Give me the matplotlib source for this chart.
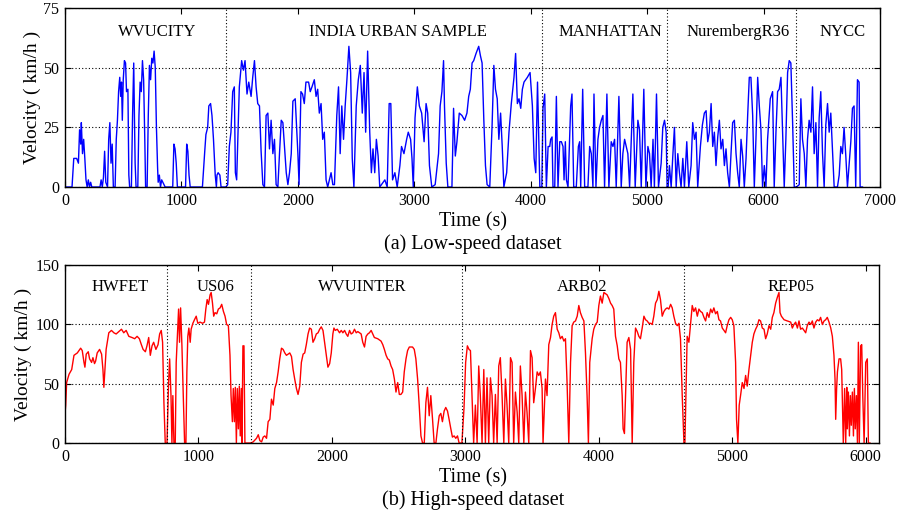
import matplotlib
matplotlib.use("Agg")
import matplotlib.pyplot as plt

plt.rcParams['font.family'] = ['Liberation Serif', 'DejaVu Serif']

# --- low-speed cycles: (time s, speed km/h) ---
wvucity = [(0, 0), (60, 0), (75, 12), (100, 12), (115, 10), (125, 24), (135, 18), (140, 27), (150, 14),
           (160, 20), (170, 12), (180, 3), (190, 0), (200, 3), (210, 0), (220, 2), (230, 0), (300, 0),
           (310, 3), (320, 0), (330, 4), (340, 15), (350, 2), (365, 0), (375, 20), (385, 27), (395, 10),
           (405, 18), (415, 0), (430, 0), (440, 20), (450, 28), (460, 40), (470, 46), (478, 38), (485, 44),
           (492, 28), (500, 45), (510, 53), (520, 52), (528, 40), (540, 41), (548, 5), (555, 0), (570, 0),
           (580, 30), (590, 52), (596, 30), (602, 10), (610, 0), (625, 0), (635, 30), (645, 44), (655, 40),
           (665, 53), (675, 45), (685, 20), (692, 0), (705, 0), (715, 30), (725, 51), (735, 45), (745, 54),
           (755, 52), (765, 57), (775, 50), (785, 25), (795, 8), (800, 2), (810, 5), (820, 0), (830, 3),
           (840, 2), (860, 0), (925, 0), (935, 18), (945, 16), (955, 10), (965, 0), (1035, 0), (1045, 18),
           (1055, 15), (1065, 5), (1075, 0), (1180, 0), (1200, 15), (1210, 22), (1225, 25), (1235, 34),
           (1250, 35), (1262, 30), (1275, 20), (1290, 5), (1300, 0), (1305, 5), (1315, 6), (1330, 5),
           (1340, 0), (1382, 0)]

india = [(1382, 0), (1397, 1), (1411, 17), (1425, 23), (1440, 40), (1454, 42), (1463, 6), (1474, 3),
         (1497, 42), (1517, 53), (1532, 49), (1546, 53), (1563, 39), (1578, 44), (1598, 38), (1612, 46),
         (1627, 53), (1641, 42), (1655, 35), (1670, 34), (1684, 15), (1699, 1), (1713, 0), (1727, 30),
         (1742, 31), (1756, 16), (1770, 28), (1785, 14), (1799, 20), (1813, 1), (1828, 0), (1842, 14),
         (1857, 28), (1871, 27), (1885, 17), (1900, 6), (1914, 1), (1928, 6), (1943, 14), (1957, 36),
         (1977, 37), (2000, 14), (2010, 1), (2026, 40), (2040, 39), (2055, 35), (2069, 44), (2092, 44),
         (2106, 40), (2121, 42), (2141, 45), (2156, 38), (2170, 41), (2184, 31), (2199, 35), (2213, 20),
         (2227, 23), (2242, 3), (2256, 0), (2285, 6), (2300, 1), (2314, 1), (2334, 30), (2349, 42),
         (2363, 14), (2377, 34), (2392, 20), (2406, 34), (2421, 45), (2438, 59), (2453, 48), (2467, 12),
         (2481, 0), (2501, 34), (2519, 45), (2536, 51), (2553, 31), (2568, 48), (2582, 23), (2599, 57),
         (2617, 23), (2631, 6), (2645, 16), (2660, 6), (2674, 20), (2689, 13), (2703, 0), (2747, 3),
         (2767, 0), (2784, 35), (2798, 35), (2813, 3), (2833, 6), (2853, 0), (2876, 9), (2890, 17),
         (2911, 14), (2934, 20), (2948, 23), (2968, 20), (2980, 12), (2991, 0), (3006, 29), (3026, 42),
         (3043, 34), (3063, 31), (3084, 19), (3101, 35), (3115, 31), (3130, 9), (3150, 0), (3179, 1),
         (3208, 14), (3222, 34), (3237, 40), (3251, 53), (3259, 34), (3274, 10), (3288, 0), (3323, 0),
         (3337, 33), (3352, 13), (3366, 19), (3386, 31), (3409, 30), (3432, 28), (3452, 31), (3467, 38),
         (3481, 41), (3496, 52), (3510, 53), (3530, 56), (3553, 59), (3568, 55), (3582, 52), (3597, 28),
         (3611, 9), (3625, 1), (3648, 0), (3668, 26), (3683, 51), (3697, 41), (3712, 37), (3726, 20),
         (3741, 31), (3755, 17), (3769, 0), (3793, 6), (3813, 23), (3833, 35), (3856, 46), (3870, 56),
         (3885, 35), (3899, 37), (3914, 33), (3928, 41), (3942, 44), (3971, 46), (3994, 48), (4014, 34),
         (4029, 12), (4043, 6), (4058, 44), (4078, 0), (4095, 0)]

manhattan = [(4095, 0), (4105, 33), (4120, 39), (4134, 0), (4149, 17), (4163, 17), (4171, 20), (4183, 21),
             (4191, 0), (4206, 0), (4220, 38), (4234, 0), (4249, 19), (4263, 19), (4277, 17), (4286, 3),
             (4297, 19), (4306, 3), (4320, 0), (4343, 34), (4354, 39), (4369, 0), (4391, 0), (4409, 17),
             (4420, 19), (4429, 0), (4446, 41), (4463, 0), (4491, 0), (4506, 17), (4520, 14), (4534, 0),
             (4543, 39), (4560, 0), (4577, 20), (4591, 25), (4606, 28), (4620, 30), (4634, 0), (4654, 39),
             (4671, 0), (4691, 19), (4706, 17), (4720, 20), (4734, 0), (4757, 38), (4777, 0), (4791, 14),
             (4806, 20), (4820, 17), (4834, 14), (4849, 0), (4877, 39), (4897, 0), (4920, 28), (4934, 24),
             (4949, 0), (4971, 41), (4989, 0), (5006, 17), (5020, 14), (5034, 0), (5050, 20), (5062, 0),
             (5080, 39), (5097, 0), (5120, 10), (5134, 25), (5149, 28), (5163, 23), (5171, 0)]

nuremberg = [(5171, 0), (5180, 0), (5191, 9), (5206, 0), (5220, 13), (5234, 25), (5249, 0), (5263, 14),
             (5277, 6), (5291, 0), (5306, 12), (5320, 0), (5340, 19), (5357, 0), (5377, 9), (5391, 27),
             (5406, 20), (5420, 23), (5434, 0), (5457, 17), (5474, 26), (5491, 31), (5506, 32), (5520, 19),
             (5534, 23), (5549, 35), (5563, 17), (5577, 23), (5591, 9), (5606, 21), (5620, 28), (5634, 16),
             (5649, 20), (5663, 9), (5677, 16), (5691, 6), (5706, 0), (5720, 14), (5734, 27), (5749, 28),
             (5763, 14), (5777, 6), (5791, 0), (5806, 20), (5820, 13), (5834, 0), (5849, 12), (5863, 30),
             (5877, 46), (5891, 46), (5906, 30), (5920, 0), (5934, 20), (5949, 46), (5963, 34), (5977, 24),
             (5991, 0), (6006, 9), (6020, 0), (6034, 20), (6057, 37), (6077, 40), (6091, 0), (6106, 23),
             (6120, 40), (6134, 41), (6149, 46), (6163, 23), (6177, 0), (6191, 20), (6206, 48), (6220, 53),
             (6234, 52), (6249, 27), (6263, 0), (6282, 0)]

nycc = [(6282, 0), (6306, 1), (6320, 37), (6334, 20), (6349, 14), (6363, 0), (6377, 20), (6391, 28),
        (6406, 23), (6420, 42), (6434, 14), (6449, 27), (6463, 0), (6477, 29), (6491, 40), (6506, 14),
        (6520, 0), (6534, 26), (6549, 35), (6563, 23), (6577, 31), (6591, 16), (6606, 0), (6634, 0),
        (6649, 5), (6663, 17), (6677, 14), (6691, 25), (6706, 13), (6720, 0), (6749, 19), (6763, 33),
        (6777, 34), (6791, 0), (6806, 45), (6820, 44), (6829, 0), (6849, 0)]

# --- high-speed cycles ---
hwfet = [(0, 25), (5, 32), (12, 51), (30, 58), (50, 62), (67, 74), (92, 76), (117, 80), (129, 78), (142, 68),
         (149, 64), (159, 75), (174, 77), (184, 71), (199, 68), (209, 72), (221, 67), (229, 69), (241, 76),
         (259, 79), (274, 75), (284, 62), (291, 47), (299, 62), (308, 79), (328, 93), (348, 95), (366, 93),
         (383, 92), (403, 94), (423, 96), (440, 93), (458, 95), (478, 90), (502, 89), (522, 88), (540, 90),
         (557, 88), (572, 83), (585, 79), (602, 77), (614, 82), (627, 89), (639, 74), (652, 82), (664, 85),
         (681, 79), (697, 83), (709, 92), (721, 95), (731, 85), (741, 34), (751, 0), (764, 0)]

us06 = [(764, 0), (776, 51), (784, 71), (794, 40), (801, 0), (808, 40), (816, 0), (826, 0), (833, 68),
        (841, 88), (851, 113), (858, 85), (866, 114), (876, 82), (886, 40), (896, 0), (906, 0), (913, 60),
        (920, 90), (928, 97), (938, 85), (945, 96), (958, 101), (970, 104), (983, 107), (995, 101),
        (1012, 102), (1030, 101), (1045, 102), (1055, 113), (1065, 121), (1075, 117), (1087, 125),
        (1095, 127), (1105, 118), (1114, 107), (1124, 110), (1137, 109), (1149, 113), (1162, 114),
        (1174, 117), (1187, 111), (1199, 107), (1211, 100), (1224, 99), (1236, 74), (1244, 40), (1254, 18),
        (1261, 46), (1269, 18), (1276, 47), (1284, 0), (1291, 46), (1299, 12), (1306, 48), (1313, 6),
        (1321, 46), (1326, 0), (1333, 82), (1341, 82), (1348, 0), (1393, 0)]

wvuinter = [(1393, 0), (1410, 1), (1435, 4), (1448, 7), (1460, 2), (1473, 1), (1485, 5), (1497, 6),
            (1510, 4), (1522, 18), (1535, 20), (1547, 37), (1560, 32), (1572, 46), (1585, 51), (1597, 60),
            (1609, 71), (1622, 80), (1634, 79), (1647, 76), (1659, 74), (1672, 75), (1684, 76), (1697, 73),
            (1709, 62), (1721, 54), (1734, 46), (1746, 41), (1759, 48), (1771, 68), (1784, 75), (1796, 76),
            (1808, 83), (1821, 92), (1833, 97), (1846, 96), (1858, 85), (1871, 88), (1883, 92), (1896, 93),
            (1908, 96), (1920, 98), (1933, 95), (1945, 85), (1958, 74), (1970, 64), (1983, 67), (1995, 76),
            (2007, 92), (2015, 97), (2025, 95), (2040, 96), (2057, 93), (2070, 95), (2082, 93), (2095, 95),
            (2107, 92), (2119, 90), (2132, 95), (2144, 92), (2157, 93), (2169, 96), (2182, 93), (2194, 94),
            (2207, 93), (2219, 92), (2231, 85), (2244, 81), (2256, 90), (2269, 92), (2281, 93), (2294, 95),
            (2306, 92), (2318, 89), (2343, 88), (2368, 86), (2381, 83), (2393, 79), (2406, 74), (2418, 71),
            (2430, 70), (2443, 65), (2455, 62), (2468, 54), (2480, 43), (2493, 51), (2505, 41), (2517, 41),
            (2530, 43), (2542, 60), (2555, 71), (2567, 78), (2580, 81), (2604, 81), (2617, 79), (2629, 71),
            (2642, 54), (2654, 32), (2667, 6), (2679, 0), (2692, 0), (2704, 34), (2716, 47), (2729, 23),
            (2741, 40), (2754, 20), (2766, 0), (2779, 0), (2791, 12), (2804, 23), (2816, 25), (2828, 18),
            (2841, 27), (2853, 30), (2866, 27), (2878, 20), (2891, 12), (2903, 5), (2916, 6), (2928, 4),
            (2941, 6), (2953, 0), (2974, 0)]

arb02 = [(2974, 0), (2990, 30), (3002, 68), (3015, 82), (3027, 79), (3038, 78), (3050, 40), (3062, 0),
         (3075, 32), (3088, 0), (3100, 65), (3112, 40), (3125, 0), (3138, 62), (3150, 0), (3162, 55),
         (3175, 0), (3188, 55), (3200, 40), (3212, 0), (3225, 41), (3238, 0), (3250, 65), (3262, 72),
         (3275, 40), (3288, 0), (3300, 54), (3312, 32), (3325, 0), (3338, 72), (3350, 68), (3362, 0),
         (3375, 43), (3388, 26), (3400, 0), (3412, 65), (3425, 40), (3438, 0), (3450, 43), (3462, 26),
         (3475, 0), (3488, 78), (3500, 72), (3512, 34), (3525, 46), (3538, 60), (3550, 57), (3562, 60),
         (3575, 46), (3582, 0), (3600, 54), (3612, 40), (3625, 83), (3638, 89), (3650, 100), (3662, 107),
         (3675, 110), (3688, 96), (3700, 93), (3712, 88), (3725, 90), (3738, 86), (3750, 88), (3762, 51),
         (3775, 0), (3788, 68), (3800, 99), (3812, 102), (3825, 103), (3838, 107), (3850, 116), (3862, 110),
         (3875, 106), (3888, 103), (3900, 76), (3912, 40), (3922, 0), (3932, 68), (3942, 79), (3950, 88),
         (3962, 96), (3975, 100), (3988, 102), (4000, 116), (4012, 124), (4025, 118), (4038, 127),
         (4062, 125), (4075, 122), (4088, 118), (4100, 116), (4112, 113), (4125, 90), (4138, 82),
         (4150, 71), (4162, 68), (4175, 40), (4182, 12), (4192, 8), (4200, 40), (4212, 85), (4225, 89),
         (4238, 79), (4250, 0), (4262, 68), (4275, 97), (4288, 94), (4300, 90), (4312, 88), (4325, 97),
         (4338, 107), (4350, 104), (4362, 103), (4375, 101), (4388, 101), (4400, 100), (4412, 107),
         (4425, 118), (4438, 121), (4450, 128), (4462, 121), (4475, 107), (4488, 111), (4500, 113),
         (4512, 114), (4525, 113), (4538, 117), (4550, 114), (4562, 107), (4575, 101), (4588, 99),
         (4600, 101), (4612, 88), (4625, 40), (4638, 0)]

rep05 = [(4638, 0), (4645, 0), (4650, 26), (4662, 90), (4675, 85), (4688, 101), (4700, 116), (4712, 111),
         (4725, 114), (4738, 107), (4750, 113), (4762, 111), (4775, 110), (4788, 106), (4800, 103),
         (4812, 110), (4825, 106), (4838, 113), (4850, 110), (4862, 114), (4875, 109), (4888, 111),
         (4900, 104), (4912, 103), (4925, 97), (4938, 95), (4950, 93), (4962, 99), (4975, 104), (4988, 106),
         (5000, 104), (5012, 99), (5025, 68), (5032, 20), (5042, 0), (5052, 32), (5062, 40), (5075, 51),
         (5088, 46), (5100, 57), (5112, 48), (5125, 62), (5138, 74), (5150, 85), (5162, 92), (5175, 96),
         (5188, 99), (5200, 104), (5212, 103), (5225, 97), (5238, 96), (5250, 88), (5262, 92), (5275, 99),
         (5288, 96), (5300, 106), (5312, 110), (5325, 118), (5338, 123), (5350, 127), (5358, 110),
         (5368, 107), (5388, 104), (5412, 103), (5438, 102), (5450, 97), (5462, 100), (5475, 102),
         (5488, 97), (5500, 103), (5512, 96), (5525, 97), (5538, 95), (5550, 93), (5562, 99), (5575, 102),
         (5588, 100), (5600, 103), (5612, 97), (5625, 102), (5638, 104), (5650, 103), (5662, 106),
         (5675, 100), (5688, 103), (5700, 104), (5712, 106), (5725, 102), (5738, 97), (5750, 90),
         (5762, 74), (5770, 54), (5775, 20), (5782, 46), (5788, 60), (5800, 71), (5812, 71), (5820, 62),
         (5832, 0), (5842, 46), (5850, 0), (5858, 47), (5862, 12), (5870, 43), (5878, 6), (5885, 40),
         (5892, 15), (5900, 43), (5908, 6), (5915, 46), (5922, 12), (5930, 40), (5938, 0), (5945, 85),
         (5952, 0), (5962, 82), (5970, 83), (5978, 40), (5988, 0), (6000, 68), (6012, 71), (6020, 0),
         (6032, 0)]

low_names = ['WVUCITY', 'INDIA URBAN SAMPLE', 'MANHATTAN', 'NurembergR36', 'NYCC']
low_cycles = [wvucity, india, manhattan, nuremberg, nycc]
low_bounds = [1382, 4095, 5171, 6282]

high_names = ['HWFET', 'US06', 'WVUINTER', 'ARB02', 'REP05']
high_cycles = [hwfet, us06, wvuinter, arb02, rep05]
high_bounds = [762, 1393, 2974, 4642]

# where each cycle name sits along the time axis
low_label_t = [790, 2858, 4687, 5777, 6678]
high_label_t = [412, 1131, 2225, 3873, 5438]


def style_axes(ax, xmax, xticks, ymax, yticks, label_x):
    ax.set_xlim(0, xmax)
    ax.set_ylim(0, ymax)
    ax.set_xticks(xticks)
    ax.set_yticks(yticks)
    ax.tick_params(direction='in', top=True, right=True, length=4, width=0.8,
                   labelsize=11.5, pad=4)
    ax.yaxis.grid(True, linestyle=(0, (1, 2)), color='black', linewidth=0.8)
    for s in ax.spines.values():
        s.set_linewidth(1.0)
    ax.set_ylabel('Velocity ( km/h )', fontsize=14)
    ax.yaxis.set_label_coords(label_x, 0.5)


fig = plt.figure(figsize=(8.97, 5.11), dpi=100)

# --- (a) low-speed ---
ax1 = fig.add_axes([0.0725, 0.634, 0.9086, 0.350])
for cyc in low_cycles:
    t, v = zip(*cyc)
    ax1.plot(t, v, color='#0000ff', linewidth=1.0)
for b in low_bounds:
    ax1.axvline(b, color='black', linestyle=(0, (1, 2)), linewidth=0.8)
for name, tx in zip(low_names, low_label_t):
    ax1.text(tx, 65, name, ha='center', va='center', fontsize=12)
style_axes(ax1, 7000, range(0, 7001, 1000), 75, [0, 25, 50, 75], -0.029)
fig.text(0.527, 0.566, 'Time (s)', ha='center', va='center', fontsize=14.5)
fig.text(0.527, 0.5225, '(a) Low-speed dataset', ha='center', va='center', fontsize=14.5)

# --- (b) high-speed ---
ax2 = fig.add_axes([0.0725, 0.133, 0.9075, 0.348])
for cyc in high_cycles:
    t, v = zip(*cyc)
    ax2.plot(t, v, color='#ff0000', linewidth=1.0)
for b in high_bounds:
    ax2.axvline(b, color='black', linestyle=(0, (1, 2)), linewidth=0.8)
for name, tx in zip(high_names, high_label_t):
    ax2.text(tx, 132, name, ha='center', va='center', fontsize=12)
style_axes(ax2, 6100, range(0, 6001, 1000), 150, [0, 50, 100, 150], -0.041)
fig.text(0.527, 0.0646, 'Time (s)', ha='center', va='center', fontsize=14.5)
fig.text(0.527, 0.0215, '(b) High-speed dataset', ha='center', va='center', fontsize=14.5)

fig.savefig('out.png', dpi=100)
